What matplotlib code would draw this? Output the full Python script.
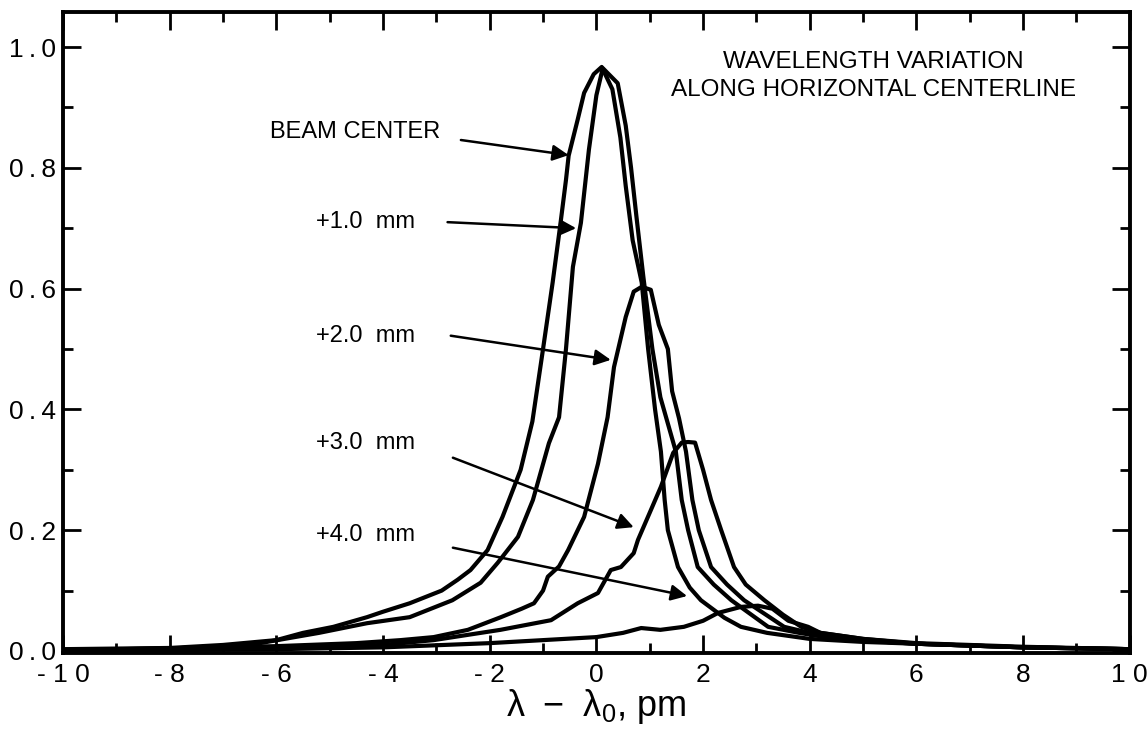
import matplotlib
matplotlib.use("Agg")
import matplotlib.pyplot as plt
from matplotlib.ticker import MultipleLocator

plt.rcParams['font.family'] = ['Liberation Sans', 'DejaVu Sans']
plt.rcParams['mathtext.fontset'] = 'dejavusans'

# ---- data ----
beam_x = [-10, -8, -7, -6, -5.5, -4.93, -4.3, -4.0, -3.5, -2.9, -2.6, -2.36, -2.04, -1.76, -1.55, -1.42,
          -1.2, -1.0, -0.82, -0.67, -0.57, -0.52, -0.35, -0.23, -0.05, 0.1,
          0.3, 0.45, 0.55, 0.68, 0.85, 0.97, 1.1, 1.21, 1.28, 1.34, 1.53, 1.75, 1.96, 2.4, 2.71, 3.2, 4.0, 5.0, 6.0, 8.0, 10]
beam_y = [0.003, 0.005, 0.01, 0.018, 0.03, 0.04, 0.056, 0.065, 0.079, 0.10, 0.118, 0.134, 0.167, 0.222, 0.27, 0.30,
          0.38, 0.50, 0.61, 0.71, 0.78, 0.82, 0.88, 0.924, 0.955, 0.967,
          0.93, 0.85, 0.77, 0.68, 0.61, 0.50, 0.40, 0.33, 0.25, 0.20, 0.139, 0.105, 0.084, 0.055, 0.04, 0.03, 0.02, 0.015, 0.012, 0.006, 0.003]

p1_x = [-10, -8, -6.5, -5.2, -4.3, -3.5, -2.7, -2.17, -1.85, -1.47, -1.19, -0.89, -0.7, -0.57, -0.44,
        -0.29, -0.14, 0.0, 0.12, 0.4, 0.55, 0.65, 0.75, 0.88, 1.05, 1.2, 1.49, 1.6, 1.72, 1.9, 2.2, 2.53,
        3.22, 3.8, 4.5, 6.0, 8.0, 10]
p1_y = [0.002, 0.004, 0.01, 0.03, 0.046, 0.056, 0.084, 0.113, 0.146, 0.189, 0.25, 0.344, 0.387, 0.50, 0.636,
        0.709, 0.83, 0.92, 0.965, 0.94, 0.87, 0.80, 0.72, 0.62, 0.50, 0.42, 0.33, 0.25, 0.20, 0.139, 0.11, 0.084,
        0.04, 0.03, 0.02, 0.012, 0.006, 0.003]

p2_x = [-10, -6, -4.5, -3.67, -3.05, -2.41, -1.79, -1.4, -1.17, -1.0, -0.91, -0.7, -0.53, -0.23, 0.03,
        0.21, 0.33, 0.55, 0.7, 0.85, 1.02, 1.17, 1.34, 1.42, 1.55, 1.68, 1.8, 1.92, 2.15, 2.45, 2.77, 3.52,
        4.0, 4.5, 6.0, 8.0, 10]
p2_y = [0.001, 0.008, 0.013, 0.018, 0.023, 0.035, 0.056, 0.07, 0.079, 0.10, 0.123, 0.14, 0.167, 0.222, 0.31,
        0.387, 0.47, 0.553, 0.595, 0.603, 0.598, 0.54, 0.50, 0.43, 0.385, 0.33, 0.25, 0.20, 0.139, 0.11, 0.084, 0.04,
        0.03, 0.02, 0.012, 0.006, 0.003]

p3_x = [-10, -6, -4, -3.05, -1.8, -0.85, -0.35, 0.03, 0.27, 0.46, 0.7, 0.78, 1.02, 1.21, 1.44, 1.6, 1.72,
        1.85, 2.0, 2.15, 2.34, 2.58, 2.8, 3.15, 3.5, 3.84, 4.2, 5.0, 6.0, 8.0, 10]
p3_y = [0.0, 0.005, 0.01, 0.018, 0.035, 0.051, 0.079, 0.096, 0.134, 0.139, 0.162, 0.184, 0.233, 0.272, 0.328, 0.345, 0.346,
        0.345, 0.30, 0.25, 0.20, 0.139, 0.11, 0.084, 0.06, 0.04, 0.03, 0.02, 0.012, 0.006, 0.003]

p4_x = [-10, -6, -4, -2, -1, 0, 0.5, 0.84, 1.2, 1.64, 2.0, 2.28, 2.71, 3.03, 3.3, 3.6, 3.97, 4.2, 5.0, 6.0, 8.0, 10]
p4_y = [0.0, 0.003, 0.006, 0.013, 0.018, 0.023, 0.03, 0.038, 0.035, 0.04, 0.05, 0.063, 0.073, 0.075, 0.07, 0.05,
        0.04, 0.03, 0.02, 0.013, 0.007, 0.003]

series = [(beam_x, beam_y), (p1_x, p1_y), (p2_x, p2_y), (p3_x, p3_y), (p4_x, p4_y)]

labels = ["BEAM CENTER", "+1.0  mm", "+2.0  mm", "+3.0  mm", "+4.0  mm"]
xtick_vals = [-10, -8, -6, -4, -2, 0, 2, 4, 6, 8, 10]
xtick_labels = ["- 1 0", "- 8", "- 6", "- 4", "- 2", "0", "2", "4", "6", "8", "1 0"]
ytick_vals = [0.0, 0.2, 0.4, 0.6, 0.8, 1.0]
ytick_labels = ["0\u2009.\u20090", "0\u2009.\u20092", "0\u2009.\u20094", "0\u2009.\u20096", "0\u2009.\u20098", "1\u2009.\u20090"]

# ---- figure ----
fig = plt.figure(figsize=(11.47, 7.39), dpi=100)
ax = fig.add_axes([0.0549, 0.1164, 0.9301, 0.8674])

for xs, ys in series:
    ax.plot(xs, ys, color='black', lw=3.0, solid_joinstyle='round', solid_capstyle='round')

ax.set_xlim(-10, 10)
ax.set_ylim(-0.0033, 1.058)

ax.set_xticks(xtick_vals)
ax.set_xticklabels(xtick_labels)
ax.set_yticks(ytick_vals)
ax.set_yticklabels(ytick_labels)
ax.xaxis.set_minor_locator(MultipleLocator(1))
ax.yaxis.set_minor_locator(MultipleLocator(0.1))
ax.tick_params(which='both', direction='in', top=True, right=True, width=2, labelsize=19)
ax.tick_params(which='major', length=13)
ax.tick_params(which='minor', length=7.5)
ax.tick_params(axis='x', pad=7)
ax.tick_params(axis='y', pad=5)
for s in ax.spines.values():
    s.set_linewidth(2.8)

ax.set_xlabel(r'$\mathregular{\lambda\ -\ \lambda_0}$, pm', fontsize=26, labelpad=0)

# annotations
ann_text = [(-4.52, 0.859), (-4.33, 0.710), (-4.33, 0.522), (-4.33, 0.344), (-4.33, 0.192)]
ann_tail = [(-2.54, 0.846), (-2.79, 0.710), (-2.73, 0.522), (-2.69, 0.320), (-2.69, 0.171)]
ann_head = [(-0.52, 0.821), (-0.38, 0.700), (0.27, 0.482), (0.70, 0.205), (1.70, 0.091)]
for lab, tp, tl, hd in zip(labels, ann_text, ann_tail, ann_head):
    ax.text(tp[0], tp[1], lab, fontsize=17, ha='center', va='center')
    ax.annotate('', xy=hd, xytext=tl,
                arrowprops=dict(arrowstyle='-|>', color='black', lw=1.8,
                                mutation_scale=24, shrinkA=0, shrinkB=0))

ax.text(5.2, 0.975, "WAVELENGTH VARIATION", fontsize=17.5, ha='center', va='center')
ax.text(5.2, 0.928, "ALONG HORIZONTAL CENTERLINE", fontsize=17.5, ha='center', va='center')

fig.savefig('out.png', dpi=100)
